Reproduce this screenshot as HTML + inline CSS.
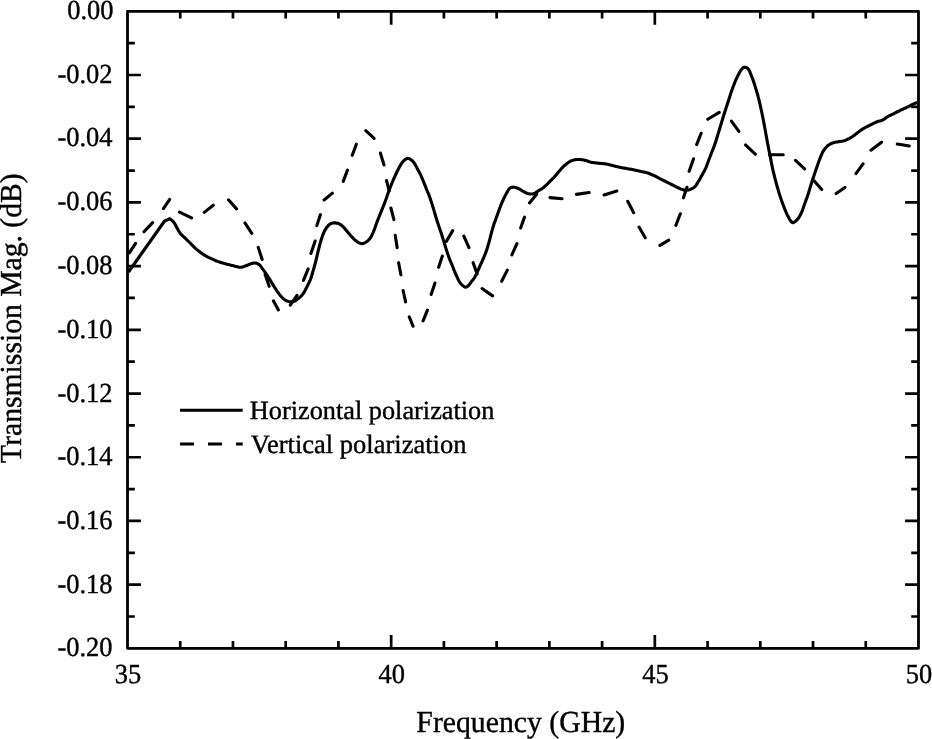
<!DOCTYPE html>
<html><head><meta charset="utf-8"><style>
html,body{margin:0;padding:0;background:#fff;}
svg{display:block;will-change:transform;}
text{font-family:"Liberation Serif",serif;text-rendering:geometricPrecision;fill:#000;stroke:#000;stroke-width:0.4px;}
</style></head><body>
<svg width="932" height="739" viewBox="0 0 932 739">
<rect width="932" height="739" fill="#fff"/>
<g fill="none" stroke="#000" stroke-linejoin="round">
<path d="M128.50,272.00 L134.52,263.50 L140.53,255.00 L146.55,246.50 L152.57,238.00 L158.58,229.50 L164.60,221.00 L165.47,220.62 L166.33,220.23 L167.20,219.85 L168.07,219.47 L168.93,219.08 L169.80,218.70 L170.48,219.28 L171.17,219.84 L171.86,220.40 L172.53,220.98 L173.18,221.60 L173.80,222.30 L174.46,223.22 L175.07,224.24 L175.65,225.33 L176.21,226.43 L176.76,227.50 L177.30,228.50 L177.74,229.28 L178.14,230.04 L178.54,230.77 L178.95,231.49 L179.39,232.20 L179.90,232.90 L180.54,233.66 L181.23,234.39 L181.97,235.11 L182.74,235.83 L183.52,236.55 L184.30,237.30 L185.15,238.14 L186.03,239.00 L186.92,239.87 L187.82,240.75 L188.71,241.62 L189.60,242.50 L190.48,243.39 L191.36,244.29 L192.24,245.19 L193.12,246.08 L194.00,246.96 L194.90,247.80 L195.77,248.58 L196.65,249.34 L197.53,250.09 L198.41,250.81 L199.31,251.52 L200.20,252.20 L201.06,252.83 L201.91,253.44 L202.78,254.04 L203.64,254.61 L204.52,255.17 L205.40,255.70 L206.26,256.19 L207.12,256.65 L207.98,257.10 L208.86,257.53 L209.77,257.96 L210.70,258.40 L211.80,258.91 L212.95,259.43 L214.12,259.95 L215.31,260.46 L216.51,260.95 L217.70,261.40 L218.87,261.81 L220.05,262.20 L221.24,262.57 L222.43,262.92 L223.61,263.26 L224.80,263.60 L225.98,263.93 L227.18,264.24 L228.39,264.55 L229.57,264.84 L230.71,265.13 L231.80,265.40 L232.64,265.62 L233.43,265.84 L234.21,266.05 L234.96,266.25 L235.72,266.43 L236.50,266.60 L237.27,266.77 L238.04,266.95 L238.82,267.12 L239.59,267.26 L240.39,267.32 L241.20,267.30 L242.17,267.13 L243.17,266.83 L244.18,266.44 L245.21,266.01 L246.25,265.58 L247.30,265.20 L248.46,264.78 L249.65,264.30 L250.87,263.83 L252.07,263.41 L253.22,263.12 L254.30,263.00 L255.10,263.03 L255.87,263.13 L256.61,263.31 L257.32,263.57 L258.02,263.89 L258.70,264.30 L259.50,264.94 L260.26,265.74 L260.98,266.66 L261.69,267.64 L262.39,268.64 L263.10,269.60 L263.85,270.59 L264.59,271.60 L265.33,272.62 L266.06,273.66 L266.78,274.72 L267.50,275.80 L268.25,276.96 L268.98,278.15 L269.71,279.37 L270.44,280.58 L271.17,281.80 L271.90,283.00 L272.63,284.18 L273.35,285.37 L274.08,286.55 L274.81,287.72 L275.55,288.87 L276.30,290.00 L277.01,291.05 L277.73,292.11 L278.45,293.14 L279.18,294.14 L279.93,295.10 L280.70,296.00 L281.40,296.77 L282.11,297.51 L282.84,298.22 L283.57,298.88 L284.33,299.48 L285.10,300.00 L285.81,300.41 L286.53,300.77 L287.26,301.09 L288.01,301.35 L288.75,301.56 L289.50,301.70 L290.23,301.79 L290.97,301.82 L291.71,301.81 L292.45,301.74 L293.19,301.60 L293.90,301.40 L294.66,301.08 L295.41,300.67 L296.15,300.18 L296.87,299.64 L297.59,299.07 L298.30,298.50 L299.06,297.89 L299.82,297.26 L300.56,296.60 L301.30,295.89 L302.01,295.13 L302.70,294.30 L303.50,293.17 L304.28,291.90 L305.02,290.56 L305.74,289.18 L306.43,287.81 L307.10,286.50 L307.69,285.37 L308.25,284.28 L308.79,283.19 L309.31,282.09 L309.82,280.97 L310.30,279.80 L310.80,278.46 L311.27,277.09 L311.71,275.68 L312.14,274.24 L312.57,272.78 L313.00,271.30 L313.48,269.65 L313.95,267.97 L314.42,266.26 L314.88,264.52 L315.34,262.77 L315.80,261.00 L316.28,259.08 L316.74,257.11 L317.21,255.12 L317.67,253.14 L318.13,251.19 L318.60,249.30 L319.02,247.63 L319.43,246.00 L319.85,244.39 L320.27,242.81 L320.72,241.24 L321.20,239.70 L321.68,238.23 L322.18,236.76 L322.70,235.31 L323.24,233.90 L323.81,232.55 L324.40,231.30 L324.91,230.33 L325.43,229.40 L325.97,228.51 L326.53,227.68 L327.11,226.91 L327.70,226.20 L328.20,225.66 L328.70,225.16 L329.21,224.69 L329.74,224.27 L330.30,223.91 L330.90,223.60 L331.58,223.34 L332.32,223.14 L333.08,223.00 L333.86,222.91 L334.64,222.88 L335.40,222.90 L336.16,222.98 L336.93,223.12 L337.70,223.31 L338.46,223.56 L339.19,223.85 L339.90,224.20 L340.60,224.63 L341.27,225.12 L341.92,225.67 L342.56,226.26 L343.18,226.88 L343.80,227.50 L344.46,228.19 L345.09,228.93 L345.72,229.69 L346.34,230.47 L346.97,231.24 L347.60,232.00 L348.24,232.76 L348.89,233.52 L349.54,234.28 L350.19,235.04 L350.84,235.78 L351.50,236.50 L352.12,237.17 L352.75,237.84 L353.37,238.49 L354.00,239.13 L354.64,239.73 L355.30,240.30 L355.93,240.81 L356.58,241.31 L357.23,241.78 L357.89,242.21 L358.55,242.59 L359.20,242.90 L359.74,243.12 L360.27,243.30 L360.81,243.46 L361.34,243.56 L361.87,243.61 L362.40,243.60 L362.94,243.52 L363.47,243.37 L364.01,243.16 L364.54,242.90 L365.07,242.61 L365.60,242.30 L366.26,241.88 L366.93,241.41 L367.60,240.89 L368.26,240.31 L368.90,239.68 L369.50,239.00 L370.19,238.07 L370.84,237.05 L371.45,235.94 L372.05,234.77 L372.62,233.55 L373.20,232.30 L373.87,230.72 L374.51,229.04 L375.13,227.29 L375.74,225.51 L376.36,223.73 L377.00,222.00 L377.65,220.32 L378.32,218.65 L378.99,216.99 L379.66,215.33 L380.33,213.66 L381.00,212.00 L381.67,210.33 L382.35,208.67 L383.03,207.01 L383.70,205.34 L384.36,203.67 L385.00,202.00 L385.61,200.33 L386.19,198.65 L386.77,196.97 L387.34,195.29 L387.91,193.63 L388.50,192.00 L389.07,190.47 L389.64,188.96 L390.21,187.46 L390.79,185.97 L391.39,184.49 L392.00,183.00 L392.64,181.49 L393.29,179.97 L393.96,178.46 L394.63,176.95 L395.32,175.46 L396.00,174.00 L396.65,172.61 L397.31,171.21 L397.97,169.83 L398.64,168.49 L399.32,167.20 L400.00,166.00 L400.56,165.06 L401.11,164.14 L401.67,163.27 L402.24,162.45 L402.85,161.69 L403.50,161.00 L404.13,160.41 L404.80,159.84 L405.49,159.31 L406.20,158.87 L406.90,158.55 L407.60,158.40 L408.24,158.43 L408.90,158.59 L409.56,158.86 L410.20,159.21 L410.82,159.60 L411.40,160.00 L411.96,160.45 L412.49,160.96 L412.99,161.52 L413.47,162.12 L413.93,162.75 L414.40,163.40 L414.93,164.19 L415.44,165.04 L415.94,165.93 L416.42,166.85 L416.91,167.78 L417.40,168.70 L417.92,169.67 L418.45,170.65 L418.97,171.64 L419.49,172.65 L420.00,173.66 L420.50,174.70 L421.02,175.81 L421.52,176.94 L422.02,178.09 L422.52,179.25 L423.01,180.42 L423.50,181.60 L424.01,182.83 L424.51,184.07 L425.00,185.33 L425.50,186.58 L426.00,187.84 L426.50,189.10 L427.02,190.36 L427.55,191.61 L428.07,192.87 L428.60,194.13 L429.11,195.41 L429.60,196.70 L430.08,198.06 L430.55,199.45 L431.00,200.85 L431.45,202.25 L431.88,203.64 L432.30,205.00 L432.68,206.24 L433.06,207.46 L433.42,208.67 L433.78,209.87 L434.13,211.08 L434.50,212.30 L434.87,213.54 L435.22,214.76 L435.58,215.98 L435.95,217.24 L436.36,218.57 L436.80,220.00 L437.54,222.29 L438.40,224.87 L439.32,227.59 L440.23,230.28 L441.08,232.81 L441.80,235.00 L442.19,236.21 L442.53,237.31 L442.85,238.33 L443.16,239.32 L443.47,240.33 L443.80,241.40 L444.18,242.65 L444.57,243.93 L444.97,245.24 L445.37,246.55 L445.78,247.88 L446.20,249.20 L446.64,250.59 L447.10,252.01 L447.56,253.44 L448.03,254.85 L448.51,256.25 L449.00,257.60 L449.47,258.81 L449.95,259.99 L450.44,261.14 L450.93,262.29 L451.42,263.44 L451.90,264.60 L452.37,265.78 L452.84,266.98 L453.30,268.18 L453.76,269.37 L454.23,270.54 L454.70,271.70 L455.16,272.79 L455.61,273.86 L456.07,274.93 L456.54,275.98 L457.02,277.00 L457.50,278.00 L457.95,278.90 L458.39,279.79 L458.85,280.66 L459.31,281.49 L459.79,282.28 L460.30,283.00 L460.74,283.55 L461.20,284.07 L461.66,284.55 L462.14,285.00 L462.62,285.42 L463.10,285.80 L463.51,286.12 L463.92,286.44 L464.33,286.74 L464.74,286.99 L465.17,287.15 L465.60,287.20 L466.12,287.09 L466.67,286.84 L467.22,286.47 L467.77,286.03 L468.30,285.56 L468.80,285.10 L469.29,284.58 L469.75,284.00 L470.19,283.39 L470.62,282.76 L471.05,282.12 L471.50,281.50 L471.99,280.88 L472.50,280.28 L473.02,279.68 L473.53,279.06 L474.03,278.40 L474.50,277.70 L475.02,276.80 L475.52,275.84 L475.99,274.83 L476.46,273.79 L476.93,272.74 L477.40,271.70 L477.90,270.61 L478.40,269.50 L478.90,268.38 L479.40,267.25 L479.90,266.12 L480.40,265.00 L480.90,263.89 L481.41,262.78 L481.91,261.68 L482.41,260.57 L482.91,259.44 L483.40,258.30 L483.91,257.09 L484.43,255.87 L484.94,254.64 L485.44,253.39 L485.93,252.11 L486.40,250.80 L486.90,249.32 L487.38,247.80 L487.85,246.24 L488.31,244.67 L488.76,243.09 L489.20,241.50 L489.65,239.83 L490.10,238.12 L490.53,236.40 L490.96,234.70 L491.38,233.06 L491.80,231.50 L492.13,230.30 L492.45,229.16 L492.77,228.05 L493.09,226.96 L493.43,225.85 L493.80,224.70 L494.25,223.36 L494.74,221.99 L495.25,220.60 L495.77,219.20 L496.29,217.80 L496.80,216.40 L497.30,215.00 L497.79,213.58 L498.29,212.17 L498.78,210.76 L499.29,209.37 L499.80,208.00 L500.30,206.71 L500.81,205.43 L501.32,204.16 L501.84,202.92 L502.37,201.69 L502.90,200.50 L503.38,199.44 L503.86,198.41 L504.35,197.39 L504.84,196.39 L505.36,195.40 L505.90,194.40 L506.48,193.31 L507.08,192.16 L507.70,191.01 L508.34,189.93 L509.01,189.01 L509.70,188.30 L510.18,187.96 L510.67,187.70 L511.17,187.51 L511.68,187.37 L512.19,187.27 L512.70,187.20 L513.21,187.17 L513.72,187.19 L514.23,187.25 L514.75,187.35 L515.27,187.47 L515.80,187.60 L516.41,187.78 L517.02,187.99 L517.64,188.24 L518.27,188.51 L518.89,188.80 L519.50,189.10 L520.14,189.44 L520.77,189.83 L521.40,190.23 L522.03,190.63 L522.66,191.03 L523.30,191.40 L523.93,191.75 L524.55,192.10 L525.18,192.45 L525.82,192.77 L526.45,193.06 L527.10,193.30 L527.73,193.49 L528.37,193.66 L529.02,193.79 L529.66,193.90 L530.29,193.97 L530.90,194.00 L531.42,194.00 L531.93,193.98 L532.43,193.94 L532.92,193.86 L533.41,193.75 L533.90,193.60 L534.43,193.37 L534.95,193.08 L535.47,192.75 L535.98,192.39 L536.49,192.04 L537.00,191.70 L537.51,191.38 L538.02,191.05 L538.54,190.72 L539.04,190.40 L539.53,190.09 L540.00,189.80 L540.36,189.59 L540.71,189.41 L541.04,189.24 L541.38,189.05 L541.73,188.85 L542.10,188.60 L542.71,188.15 L543.36,187.63 L544.04,187.05 L544.73,186.44 L545.43,185.82 L546.10,185.20 L546.79,184.55 L547.48,183.87 L548.16,183.18 L548.84,182.48 L549.52,181.79 L550.20,181.10 L550.87,180.44 L551.54,179.78 L552.21,179.13 L552.88,178.47 L553.54,177.80 L554.20,177.10 L554.89,176.33 L555.58,175.54 L556.26,174.73 L556.94,173.92 L557.62,173.10 L558.30,172.30 L558.98,171.50 L559.66,170.70 L560.34,169.90 L561.02,169.11 L561.71,168.34 L562.40,167.60 L563.05,166.93 L563.71,166.28 L564.37,165.65 L565.04,165.04 L565.71,164.46 L566.40,163.90 L567.06,163.39 L567.74,162.90 L568.42,162.42 L569.11,161.98 L569.80,161.57 L570.50,161.20 L571.15,160.89 L571.81,160.61 L572.48,160.36 L573.15,160.15 L573.82,159.96 L574.50,159.80 L575.17,159.68 L575.85,159.60 L576.54,159.55 L577.23,159.52 L577.91,159.50 L578.60,159.50 L579.28,159.51 L579.97,159.53 L580.66,159.57 L581.34,159.63 L582.02,159.70 L582.70,159.80 L583.37,159.92 L584.04,160.07 L584.71,160.23 L585.37,160.41 L586.03,160.60 L586.70,160.80 L587.38,161.02 L588.06,161.27 L588.74,161.53 L589.42,161.78 L590.11,162.01 L590.80,162.20 L591.49,162.35 L592.19,162.46 L592.89,162.55 L593.60,162.64 L594.30,162.71 L595.00,162.80 L595.69,162.89 L596.37,162.98 L597.06,163.07 L597.74,163.15 L598.42,163.23 L599.10,163.30 L599.77,163.36 L600.44,163.40 L601.10,163.44 L601.77,163.49 L602.43,163.54 L603.10,163.60 L603.78,163.68 L604.47,163.76 L605.15,163.86 L605.84,163.96 L606.52,164.07 L607.20,164.20 L607.87,164.34 L608.54,164.50 L609.20,164.68 L609.87,164.85 L610.53,165.03 L611.20,165.20 L611.87,165.37 L612.52,165.53 L613.18,165.69 L613.85,165.86 L614.56,166.02 L615.30,166.20 L616.33,166.44 L617.44,166.69 L618.59,166.95 L619.77,167.21 L620.95,167.46 L622.10,167.70 L623.22,167.91 L624.33,168.11 L625.45,168.31 L626.57,168.50 L627.68,168.69 L628.80,168.90 L629.93,169.12 L631.06,169.35 L632.20,169.59 L633.33,169.83 L634.47,170.06 L635.60,170.30 L636.74,170.53 L637.90,170.76 L639.05,171.00 L640.19,171.23 L641.31,171.46 L642.40,171.70 L643.35,171.91 L644.29,172.11 L645.21,172.32 L646.11,172.53 L646.97,172.75 L647.80,173.00 L648.47,173.23 L649.12,173.48 L649.74,173.74 L650.35,174.00 L650.93,174.26 L651.50,174.50 L651.95,174.69 L652.38,174.86 L652.80,175.03 L653.21,175.20 L653.64,175.39 L654.10,175.60 L654.72,175.90 L655.37,176.24 L656.05,176.60 L656.73,176.97 L657.42,177.34 L658.10,177.70 L658.78,178.05 L659.46,178.40 L660.15,178.76 L660.83,179.11 L661.52,179.45 L662.20,179.80 L662.87,180.14 L663.53,180.47 L664.20,180.81 L664.86,181.14 L665.53,181.47 L666.20,181.80 L666.88,182.13 L667.56,182.46 L668.25,182.80 L668.93,183.13 L669.62,183.46 L670.30,183.80 L670.98,184.15 L671.67,184.50 L672.35,184.85 L673.04,185.20 L673.72,185.55 L674.40,185.90 L675.07,186.24 L675.73,186.58 L676.40,186.92 L677.06,187.26 L677.73,187.58 L678.40,187.90 L679.08,188.21 L679.76,188.52 L680.44,188.83 L681.12,189.12 L681.81,189.38 L682.50,189.60 L683.16,189.79 L683.83,189.97 L684.49,190.12 L685.16,190.23 L685.83,190.30 L686.50,190.30 L687.19,190.24 L687.87,190.11 L688.56,189.93 L689.25,189.71 L689.93,189.47 L690.60,189.20 L691.30,188.91 L692.01,188.60 L692.71,188.26 L693.40,187.88 L694.06,187.43 L694.70,186.90 L695.44,186.12 L696.13,185.21 L696.79,184.20 L697.43,183.14 L698.06,182.06 L698.70,181.00 L699.38,179.87 L700.04,178.71 L700.70,177.52 L701.35,176.33 L701.98,175.15 L702.60,174.00 L703.16,172.96 L703.72,171.93 L704.26,170.92 L704.79,169.90 L705.30,168.87 L705.80,167.80 L706.30,166.63 L706.78,165.43 L707.23,164.20 L707.68,162.97 L708.14,161.73 L708.60,160.50 L709.08,159.26 L709.56,158.01 L710.05,156.76 L710.53,155.50 L711.02,154.25 L711.50,153.00 L711.99,151.76 L712.48,150.52 L712.97,149.29 L713.45,148.05 L713.93,146.79 L714.40,145.50 L714.89,144.09 L715.36,142.66 L715.83,141.20 L716.29,139.73 L716.74,138.26 L717.20,136.80 L717.66,135.34 L718.11,133.86 L718.57,132.39 L719.01,130.92 L719.46,129.46 L719.90,128.00 L720.32,126.59 L720.74,125.18 L721.15,123.78 L721.56,122.39 L721.98,120.99 L722.40,119.60 L722.83,118.21 L723.25,116.83 L723.69,115.44 L724.12,114.06 L724.56,112.68 L725.00,111.30 L725.45,109.91 L725.92,108.50 L726.38,107.08 L726.84,105.70 L727.29,104.36 L727.70,103.10 L728.01,102.16 L728.29,101.27 L728.57,100.41 L728.84,99.56 L729.11,98.70 L729.40,97.80 L729.72,96.78 L730.04,95.74 L730.37,94.68 L730.71,93.61 L731.05,92.55 L731.40,91.50 L731.76,90.46 L732.14,89.41 L732.53,88.38 L732.92,87.34 L733.31,86.32 L733.70,85.30 L734.07,84.33 L734.44,83.38 L734.82,82.43 L735.20,81.48 L735.59,80.54 L736.00,79.60 L736.44,78.64 L736.89,77.66 L737.35,76.69 L737.83,75.74 L738.31,74.80 L738.80,73.90 L739.25,73.09 L739.71,72.27 L740.17,71.48 L740.64,70.72 L741.12,70.02 L741.60,69.40 L741.96,68.96 L742.32,68.54 L742.68,68.15 L743.05,67.82 L743.45,67.56 L743.90,67.40 L744.50,67.33 L745.18,67.37 L745.90,67.52 L746.62,67.76 L747.30,68.09 L747.90,68.50 L748.54,69.20 L749.09,70.10 L749.58,71.15 L750.03,72.28 L750.46,73.42 L750.90,74.50 L751.35,75.56 L751.79,76.63 L752.21,77.71 L752.61,78.80 L753.01,79.89 L753.40,81.00 L753.79,82.15 L754.16,83.31 L754.53,84.48 L754.89,85.65 L755.24,86.83 L755.60,88.00 L755.96,89.16 L756.31,90.31 L756.67,91.47 L757.02,92.63 L757.36,93.80 L757.70,95.00 L758.05,96.30 L758.39,97.61 L758.72,98.95 L759.05,100.29 L759.38,101.64 L759.70,103.00 L760.03,104.40 L760.35,105.80 L760.67,107.22 L760.98,108.64 L761.29,110.06 L761.60,111.50 L761.91,112.98 L762.21,114.47 L762.51,115.97 L762.81,117.47 L763.10,118.98 L763.40,120.50 L763.70,122.07 L764.01,123.65 L764.31,125.23 L764.61,126.82 L764.91,128.41 L765.20,130.00 L765.49,131.59 L765.77,133.19 L766.06,134.78 L766.34,136.37 L766.62,137.95 L766.90,139.50 L767.17,140.94 L767.43,142.37 L767.69,143.78 L767.96,145.19 L768.23,146.59 L768.50,148.00 L768.77,149.39 L769.04,150.76 L769.32,152.12 L769.60,153.52 L769.89,154.97 L770.20,156.50 L770.62,158.61 L771.06,160.86 L771.51,163.20 L771.99,165.58 L772.49,167.97 L773.00,170.30 L773.54,172.62 L774.11,174.95 L774.69,177.29 L775.29,179.60 L775.90,181.88 L776.50,184.10 L777.05,186.08 L777.60,188.02 L778.15,189.93 L778.71,191.82 L779.29,193.70 L779.90,195.60 L780.54,197.54 L781.20,199.49 L781.89,201.45 L782.58,203.38 L783.29,205.27 L784.00,207.10 L784.64,208.73 L785.27,210.33 L785.90,211.91 L786.56,213.44 L787.26,214.91 L788.00,216.30 L788.70,217.57 L789.42,218.92 L790.18,220.22 L790.96,221.35 L791.76,222.19 L792.60,222.60 L793.34,222.58 L794.12,222.28 L794.92,221.77 L795.72,221.13 L796.49,220.41 L797.20,219.70 L798.00,218.78 L798.76,217.72 L799.47,216.55 L800.15,215.32 L800.79,214.06 L801.40,212.80 L802.00,211.44 L802.53,210.03 L803.03,208.58 L803.51,207.12 L804.00,205.65 L804.50,204.20 L805.03,202.76 L805.57,201.34 L806.11,199.92 L806.65,198.48 L807.18,197.01 L807.70,195.50 L808.26,193.77 L808.82,191.97 L809.36,190.14 L809.90,188.30 L810.45,186.48 L811.00,184.70 L811.53,183.05 L812.06,181.42 L812.59,179.81 L813.12,178.21 L813.66,176.61 L814.20,175.00 L814.74,173.38 L815.29,171.74 L815.84,170.11 L816.39,168.49 L816.95,166.88 L817.50,165.30 L818.02,163.80 L818.55,162.31 L819.07,160.83 L819.60,159.38 L820.14,157.96 L820.70,156.60 L821.20,155.43 L821.69,154.30 L822.19,153.19 L822.71,152.12 L823.28,151.09 L823.90,150.10 L824.54,149.20 L825.22,148.33 L825.94,147.49 L826.69,146.70 L827.48,145.97 L828.30,145.30 L829.14,144.72 L830.03,144.19 L830.95,143.71 L831.89,143.29 L832.81,142.92 L833.70,142.60 L834.42,142.39 L835.13,142.23 L835.82,142.12 L836.53,142.02 L837.25,141.92 L838.00,141.80 L838.94,141.65 L839.93,141.51 L840.95,141.38 L841.97,141.22 L842.96,141.03 L843.90,140.80 L844.70,140.55 L845.46,140.26 L846.21,139.95 L846.94,139.61 L847.67,139.26 L848.40,138.90 L849.16,138.51 L849.92,138.11 L850.67,137.68 L851.42,137.24 L852.17,136.78 L852.90,136.30 L853.65,135.77 L854.38,135.22 L855.11,134.64 L855.84,134.05 L856.56,133.47 L857.30,132.90 L858.04,132.34 L858.79,131.77 L859.53,131.20 L860.28,130.65 L861.04,130.11 L861.80,129.60 L862.54,129.13 L863.29,128.68 L864.04,128.24 L864.79,127.82 L865.55,127.41 L866.30,127.00 L867.03,126.61 L867.77,126.24 L868.50,125.88 L869.23,125.52 L869.97,125.16 L870.70,124.80 L871.43,124.43 L872.17,124.04 L872.90,123.66 L873.63,123.29 L874.37,122.93 L875.10,122.60 L875.80,122.31 L876.51,122.05 L877.21,121.81 L877.91,121.57 L878.61,121.34 L879.30,121.10 L879.95,120.89 L880.59,120.70 L881.23,120.52 L881.86,120.31 L882.48,120.08 L883.10,119.80 L883.75,119.42 L884.37,118.98 L884.99,118.50 L885.61,118.01 L886.25,117.53 L886.90,117.10 L887.59,116.70 L888.28,116.33 L888.99,115.98 L889.71,115.63 L890.45,115.27 L891.20,114.90 L892.06,114.46 L892.95,114.02 L893.86,113.56 L894.77,113.11 L895.69,112.65 L896.60,112.20 L897.51,111.75 L898.43,111.29 L899.35,110.84 L900.27,110.39 L901.18,109.94 L902.10,109.50 L903.00,109.08 L903.90,108.66 L904.80,108.25 L905.70,107.84 L906.60,107.43 L907.50,107.00 L908.41,106.55 L909.32,106.09 L910.24,105.63 L911.14,105.16 L912.03,104.72 L912.90,104.30 L913.64,103.96 L914.37,103.63 L915.08,103.32 L915.78,103.02 L916.49,102.71 L917.20,102.40" stroke-width="3.1"/>
<path d="M129.32,252.96L135.58,243.34 M143.98,231.71L152.62,222.59 M163.43,208.57L169.67,199.43 M179.46,212.07L191.54,217.83 M204.21,212.35L213.29,205.25 M228.47,199.80L236.53,208.90 M244.92,222.93L251.78,233.27 M258.22,247.38L262.18,259.42 M265.13,274.38L269.17,286.32 M273.39,300.75L278.41,309.95 M290.32,305.17L296.98,295.33 M303.45,280.33L308.15,268.87 M310.93,253.52L315.17,241.08 M316.82,225.62L320.38,214.68 M324.11,200.04L332.39,193.16 M343.24,181.33L347.46,170.17 M352.24,155.32L356.36,144.18 M365.79,130.67L374.11,138.33 M380.41,153.08L383.99,165.02 M386.50,180.49L389.20,191.11 M390.90,207.99L393.90,219.61 M395.26,235.40L397.14,247.60 M398.58,262.69L400.92,274.81 M403.09,290.49L405.61,301.91 M409.25,316.87L413.05,326.23 M423.05,320.83L427.45,310.07 M431.13,294.42L434.97,282.98 M438.63,267.32L442.37,255.98 M446.30,241.46L452.70,230.64 M463.86,236.07L468.94,247.53 M473.13,262.68L477.17,274.12 M482.03,288.53L492.57,295.87 M501.68,281.24L507.32,270.16 M511.86,254.93L516.94,243.57 M520.63,227.92L524.47,217.18 M529.46,202.89L536.64,194.31 M550.00,197.63L562.10,198.67 M576.40,194.34L589.10,192.56 M604.08,194.98L616.82,191.02 M627.69,201.25L633.71,212.75 M639.00,227.05L645.20,237.75 M659.94,245.40L668.76,240.20 M675.85,225.33L680.35,213.77 M683.43,197.82L686.97,187.28 M689.13,171.32L693.57,158.78 M696.65,144.63L701.15,133.27 M707.74,119.29L719.26,112.41 M731.43,121.12L738.87,131.38 M745.49,144.97L755.31,154.23 M769.40,154.80L783.20,154.80 M795.49,160.27L804.61,168.83 M814.26,180.90L821.74,189.50 M836.13,193.57L844.97,187.43 M855.94,173.58L863.06,163.82 M870.92,150.16L881.58,142.14 M897.29,144.06L909.31,146.04" stroke-width="3.1" stroke-linecap="round"/>
<path d="M180.23,648.35V641.05 M180.23,11.30V18.60 M232.97,648.35V641.05 M232.97,11.30V18.60 M285.70,648.35V641.05 M285.70,11.30V18.60 M338.43,648.35V641.05 M338.43,11.30V18.60 M391.17,648.35V634.95 M391.17,11.30V24.70 M443.90,648.35V641.05 M443.90,11.30V18.60 M496.63,648.35V641.05 M496.63,11.30V18.60 M549.37,648.35V641.05 M549.37,11.30V18.60 M602.10,648.35V641.05 M602.10,11.30V18.60 M654.83,648.35V634.95 M654.83,11.30V24.70 M707.57,648.35V641.05 M707.57,11.30V18.60 M760.30,648.35V641.05 M760.30,11.30V18.60 M813.03,648.35V641.05 M813.03,11.30V18.60 M865.77,648.35V641.05 M865.77,11.30V18.60 M127.50,43.15H134.80 M918.50,43.15H911.20 M127.50,75.01H140.90 M918.50,75.01H905.10 M127.50,106.86H134.80 M918.50,106.86H911.20 M127.50,138.71H140.90 M918.50,138.71H905.10 M127.50,170.56H134.80 M918.50,170.56H911.20 M127.50,202.42H140.90 M918.50,202.42H905.10 M127.50,234.27H134.80 M918.50,234.27H911.20 M127.50,266.12H140.90 M918.50,266.12H905.10 M127.50,297.97H134.80 M918.50,297.97H911.20 M127.50,329.83H140.90 M918.50,329.83H905.10 M127.50,361.68H134.80 M918.50,361.68H911.20 M127.50,393.53H140.90 M918.50,393.53H905.10 M127.50,425.38H134.80 M918.50,425.38H911.20 M127.50,457.24H140.90 M918.50,457.24H905.10 M127.50,489.09H134.80 M918.50,489.09H911.20 M127.50,520.94H140.90 M918.50,520.94H905.10 M127.50,552.79H134.80 M918.50,552.79H911.20 M127.50,584.64H140.90 M918.50,584.64H905.10 M127.50,616.50H134.80 M918.50,616.50H911.20" stroke-width="2.7"/>
<rect x="127.5" y="11.3" width="791.0" height="637.0500000000001" stroke-width="2.8"/>
<path d="M180,410.3H242.7" stroke-width="3.1"/>
<path d="M180,444H242.7" stroke-width="3.1" stroke-dasharray="14 14"/>
</g>
<g font-size="27.5">
<text transform="translate(113.50,18.80) scale(0.962,1)" text-anchor="end">0.00</text><text transform="translate(112.50,82.51) scale(0.962,1)" text-anchor="end">-0.02</text><text transform="translate(112.50,146.21) scale(0.962,1)" text-anchor="end">-0.04</text><text transform="translate(112.50,209.92) scale(0.962,1)" text-anchor="end">-0.06</text><text transform="translate(112.50,274.22) scale(0.962,1)" text-anchor="end">-0.08</text><text transform="translate(112.50,337.93) scale(0.962,1)" text-anchor="end">-0.10</text><text transform="translate(112.50,401.63) scale(0.962,1)" text-anchor="end">-0.12</text><text transform="translate(112.50,465.34) scale(0.962,1)" text-anchor="end">-0.14</text><text transform="translate(112.50,529.04) scale(0.962,1)" text-anchor="end">-0.16</text><text transform="translate(112.50,592.75) scale(0.962,1)" text-anchor="end">-0.18</text><text transform="translate(112.50,656.45) scale(0.962,1)" text-anchor="end">-0.20</text>
<text transform="translate(128.10,683.2) scale(0.962,1)" text-anchor="middle">35</text><text transform="translate(391.77,683.2) scale(0.962,1)" text-anchor="middle">40</text><text transform="translate(655.43,683.2) scale(0.962,1)" text-anchor="middle">45</text><text transform="translate(919.10,683.2) scale(0.962,1)" text-anchor="middle">50</text>
</g>
<text x="249.8" y="419.0" font-size="26.3">Horizontal polarization</text>
<text x="250.8" y="452.8" font-size="26.5">Vertical polarization</text>
<text transform="translate(520.8,732.2) scale(0.975,1)" font-size="30.5" text-anchor="middle">Frequency (GHz)</text>
<text transform="translate(21.4,318.1) rotate(-90) scale(0.972,1)" font-size="30.5" text-anchor="middle">Transmission Mag. (dB)</text>
</svg>
</body></html>
